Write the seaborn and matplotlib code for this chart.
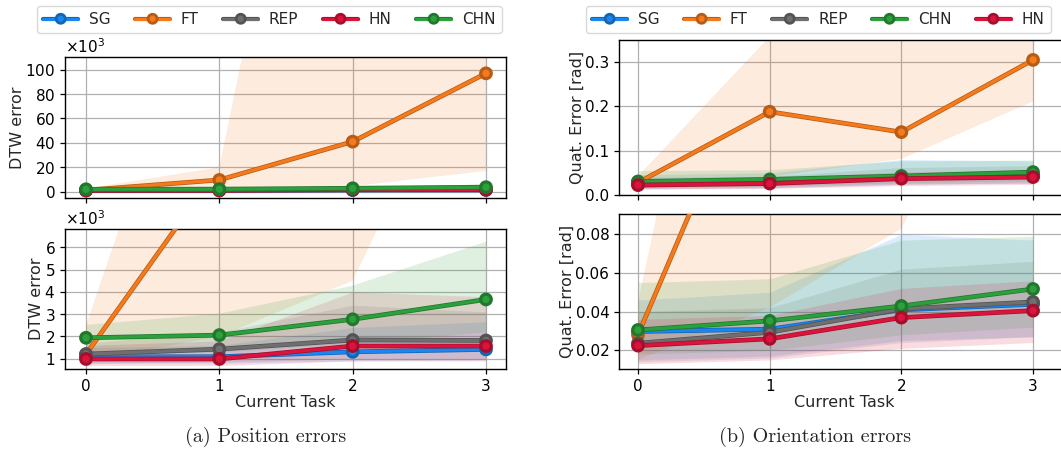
import matplotlib
matplotlib.use("Agg")
import numpy as np
import pandas as pd
import seaborn as sns
import matplotlib.pyplot as plt
from matplotlib import patheffects as pe
from matplotlib.lines import Line2D
from matplotlib.colors import to_rgb

# ---------------- data ----------------
tasks = [0, 1, 2, 3]
task_ticks = [0, 1, 2, 3]

order_pos = ["SG", "FT", "REP", "HN", "CHN"]
order_ori = ["SG", "FT", "REP", "CHN", "HN"]

# DTW position error (mean and shaded band limits)
sg_dtw = [1090, 1090, 1310, 1420]
sg_dtw_lo = [800, 800, 900, 950]
sg_dtw_hi = [1500, 1600, 2400, 2660]
ft_dtw = [1200, 9600, 41000, 97000]
ft_dtw_lo = [900, 2000, 4500, 17000]
ft_dtw_hi = [2500, 20000, 550000, 600000]
rep_dtw = [1210, 1430, 1840, 1820]
rep_dtw_lo = [800, 850, 1000, 1000]
rep_dtw_hi = [1700, 2200, 3400, 3100]
hn_dtw = [990, 990, 1570, 1570]
hn_dtw_lo = [700, 700, 900, 900]
hn_dtw_hi = [1600, 1800, 4000, 3780]
chn_dtw = [1940, 2060, 2770, 3660]
chn_dtw_lo = [1200, 1300, 1700, 2200]
chn_dtw_hi = [2540, 3050, 4310, 6280]

# Quaternion orientation error [rad]
sg_quat = [0.0297, 0.0309, 0.0409, 0.0438]
sg_quat_lo = [0.015, 0.017, 0.025, 0.027]
sg_quat_hi = [0.046, 0.050, 0.080, 0.077]
ft_quat = [0.028, 0.188, 0.142, 0.305]
ft_quat_lo = [0.015, 0.042, 0.083, 0.213]
ft_quat_hi = [0.045, 0.36, 0.60, 0.60]
rep_quat = [0.0236, 0.0293, 0.0414, 0.0450]
rep_quat_lo = [0.014, 0.016, 0.024, 0.027]
rep_quat_hi = [0.040, 0.042, 0.062, 0.066]
hn_quat = [0.0224, 0.0259, 0.0369, 0.0405]
hn_quat_lo = [0.013, 0.015, 0.021, 0.024]
hn_quat_hi = [0.036, 0.038, 0.052, 0.056]
chn_quat = [0.0305, 0.0352, 0.0429, 0.0517]
chn_quat_lo = [0.018, 0.020, 0.028, 0.032]
chn_quat_hi = [0.055, 0.057, 0.077, 0.079]

dtw_ticks_top = [0, 20000, 40000, 60000, 80000, 100000]
dtw_ticks_bottom = [1000, 2000, 3000, 4000, 5000, 6000]
quat_ticks_top = [0.0, 0.1, 0.2, 0.3]
quat_ticks_bottom = [0.02, 0.04, 0.06, 0.08]

colors = {"SG": "#1a86f0", "FT": "#f57a1c", "REP": "#6f6f6f",
          "HN": "#dc143c", "CHN": "#2ca03c"}

dtw = {"SG": (sg_dtw, sg_dtw_lo, sg_dtw_hi), "FT": (ft_dtw, ft_dtw_lo, ft_dtw_hi),
       "REP": (rep_dtw, rep_dtw_lo, rep_dtw_hi), "HN": (hn_dtw, hn_dtw_lo, hn_dtw_hi),
       "CHN": (chn_dtw, chn_dtw_lo, chn_dtw_hi)}
quat = {"SG": (sg_quat, sg_quat_lo, sg_quat_hi), "FT": (ft_quat, ft_quat_lo, ft_quat_hi),
        "REP": (rep_quat, rep_quat_lo, rep_quat_hi), "HN": (hn_quat, hn_quat_lo, hn_quat_hi),
        "CHN": (chn_quat, chn_quat_lo, chn_quat_hi)}

# ---------------- style ----------------
sns.set_style("ticks")
plt.rcParams["font.family"] = ["DejaVu Sans"]
plt.rcParams["font.size"] = 11
plt.rcParams["axes.edgecolor"] = "black"
plt.rcParams["xtick.color"] = "black"
plt.rcParams["ytick.color"] = "black"


def darker(c, f=0.75):
    r, g, b = to_rgb(c)
    return (r * f, g * f, b * f)


W, H = 1061, 453
fig = plt.figure(figsize=(W / 100, H / 100), dpi=100)


def px_axes(x0, y0, x1, y1):
    return fig.add_axes([x0 / W, 1 - y1 / H, (x1 - x0) / W, (y1 - y0) / H])


ax_pt = px_axes(65, 57, 506, 198)
ax_pb = px_axes(65, 229, 506, 369)
ax_ot = px_axes(619, 40, 1069, 195)
ax_ob = px_axes(619, 214, 1069, 369)

LINE_STYLE = dict(marker="o", markersize=6.5, markeredgewidth=1.2, linewidth=2.3)


def draw(ax, order, table):
    for m in order:
        mean, lo, hi = table[m]
        ax.fill_between(tasks, lo, hi, color=colors[m], alpha=0.15, lw=0, zorder=1)
    for m in order:
        mean, lo, hi = table[m]
        dark = darker(colors[m])
        sns.lineplot(x=tasks, y=mean, ax=ax, color=colors[m], errorbar=None,
                     markeredgecolor=dark, legend=False, zorder=3,
                     path_effects=[pe.Stroke(linewidth=3.4, foreground=dark), pe.Normal()],
                     **LINE_STYLE)


for ax, order, table in [(ax_pt, order_pos, dtw), (ax_pb, order_pos, dtw),
                         (ax_ot, order_ori, quat), (ax_ob, order_ori, quat)]:
    draw(ax, order, table)
    ax.grid(True, color="#b0b0b0", lw=0.9)
    ax.set_axisbelow(True)
    ax.set_xticks(task_ticks)
    ax.tick_params(labelsize=11, length=3.5, width=0.9)
    for s in ax.spines.values():
        s.set_linewidth(1.0)
    ax.set_xlabel("")

ax_pt.set_xlim(-0.1575, 3.15)
ax_pb.set_xlim(-0.1575, 3.15)
ax_ot.set_xlim(-0.1443, 3.273)
ax_ob.set_xlim(-0.1443, 3.273)

ax_pt.set_ylim(-5200, 110400)
ax_pt.set_yticks(dtw_ticks_top)
ax_pb.set_ylim(540, 6820)
ax_pb.set_yticks(dtw_ticks_bottom)
for ax in (ax_pt, ax_pb):
    ax.ticklabel_format(style="sci", axis="y", scilimits=(3, 3), useMathText=True)
    ax.yaxis.get_offset_text().set_fontsize(11)
    ax.set_ylabel("DTW error", fontsize=11.5, labelpad=0.5)

ax_ot.set_ylim(0.0, 0.35)
ax_ot.set_yticks(quat_ticks_top)
ax_ob.set_ylim(0.0103, 0.0905)
ax_ob.set_yticks(quat_ticks_bottom)
for ax in (ax_ot, ax_ob):
    ax.set_ylabel("Quat. Error [rad]", fontsize=11.5, labelpad=0.5)

for ax in (ax_pt, ax_ot):
    ax.tick_params(labelbottom=False)
for ax in (ax_pb, ax_ob):
    ax.set_xlabel("Current Task", fontsize=11.5, labelpad=1)


def legend_handles(order):
    hs = []
    for m in order:
        dark = darker(colors[m])
        hs.append(Line2D([], [], color=colors[m], lw=2.2, marker="o", markersize=5.5,
                         markeredgecolor=dark, markeredgewidth=1.0,
                         path_effects=[pe.Stroke(linewidth=3.0, foreground=dark), pe.Normal()]))
    return hs


leg_kw = dict(ncol=5, fontsize=11, frameon=True, handlelength=2.3,
              columnspacing=1.6, handletextpad=0.7, borderaxespad=0,
              borderpad=0.4, loc="upper left", edgecolor="#d0d0d0", fancybox=True)
fig.legend(legend_handles(order_pos), order_pos,
           bbox_to_anchor=(37 / W, 1 - 6 / H), **leg_kw)
fig.legend(legend_handles(order_ori), order_ori,
           bbox_to_anchor=(586 / W, 1 - 6 / H), **leg_kw)

fig.text(266 / W, 1 - 437 / H, "(a) Position errors", ha="center", va="center",
         fontsize=14.5, family="cmr10")
fig.text(815 / W, 1 - 437 / H, "(b) Orientation errors", ha="center", va="center",
         fontsize=14.5, family="cmr10")

fig.savefig("out.png", dpi=100)
